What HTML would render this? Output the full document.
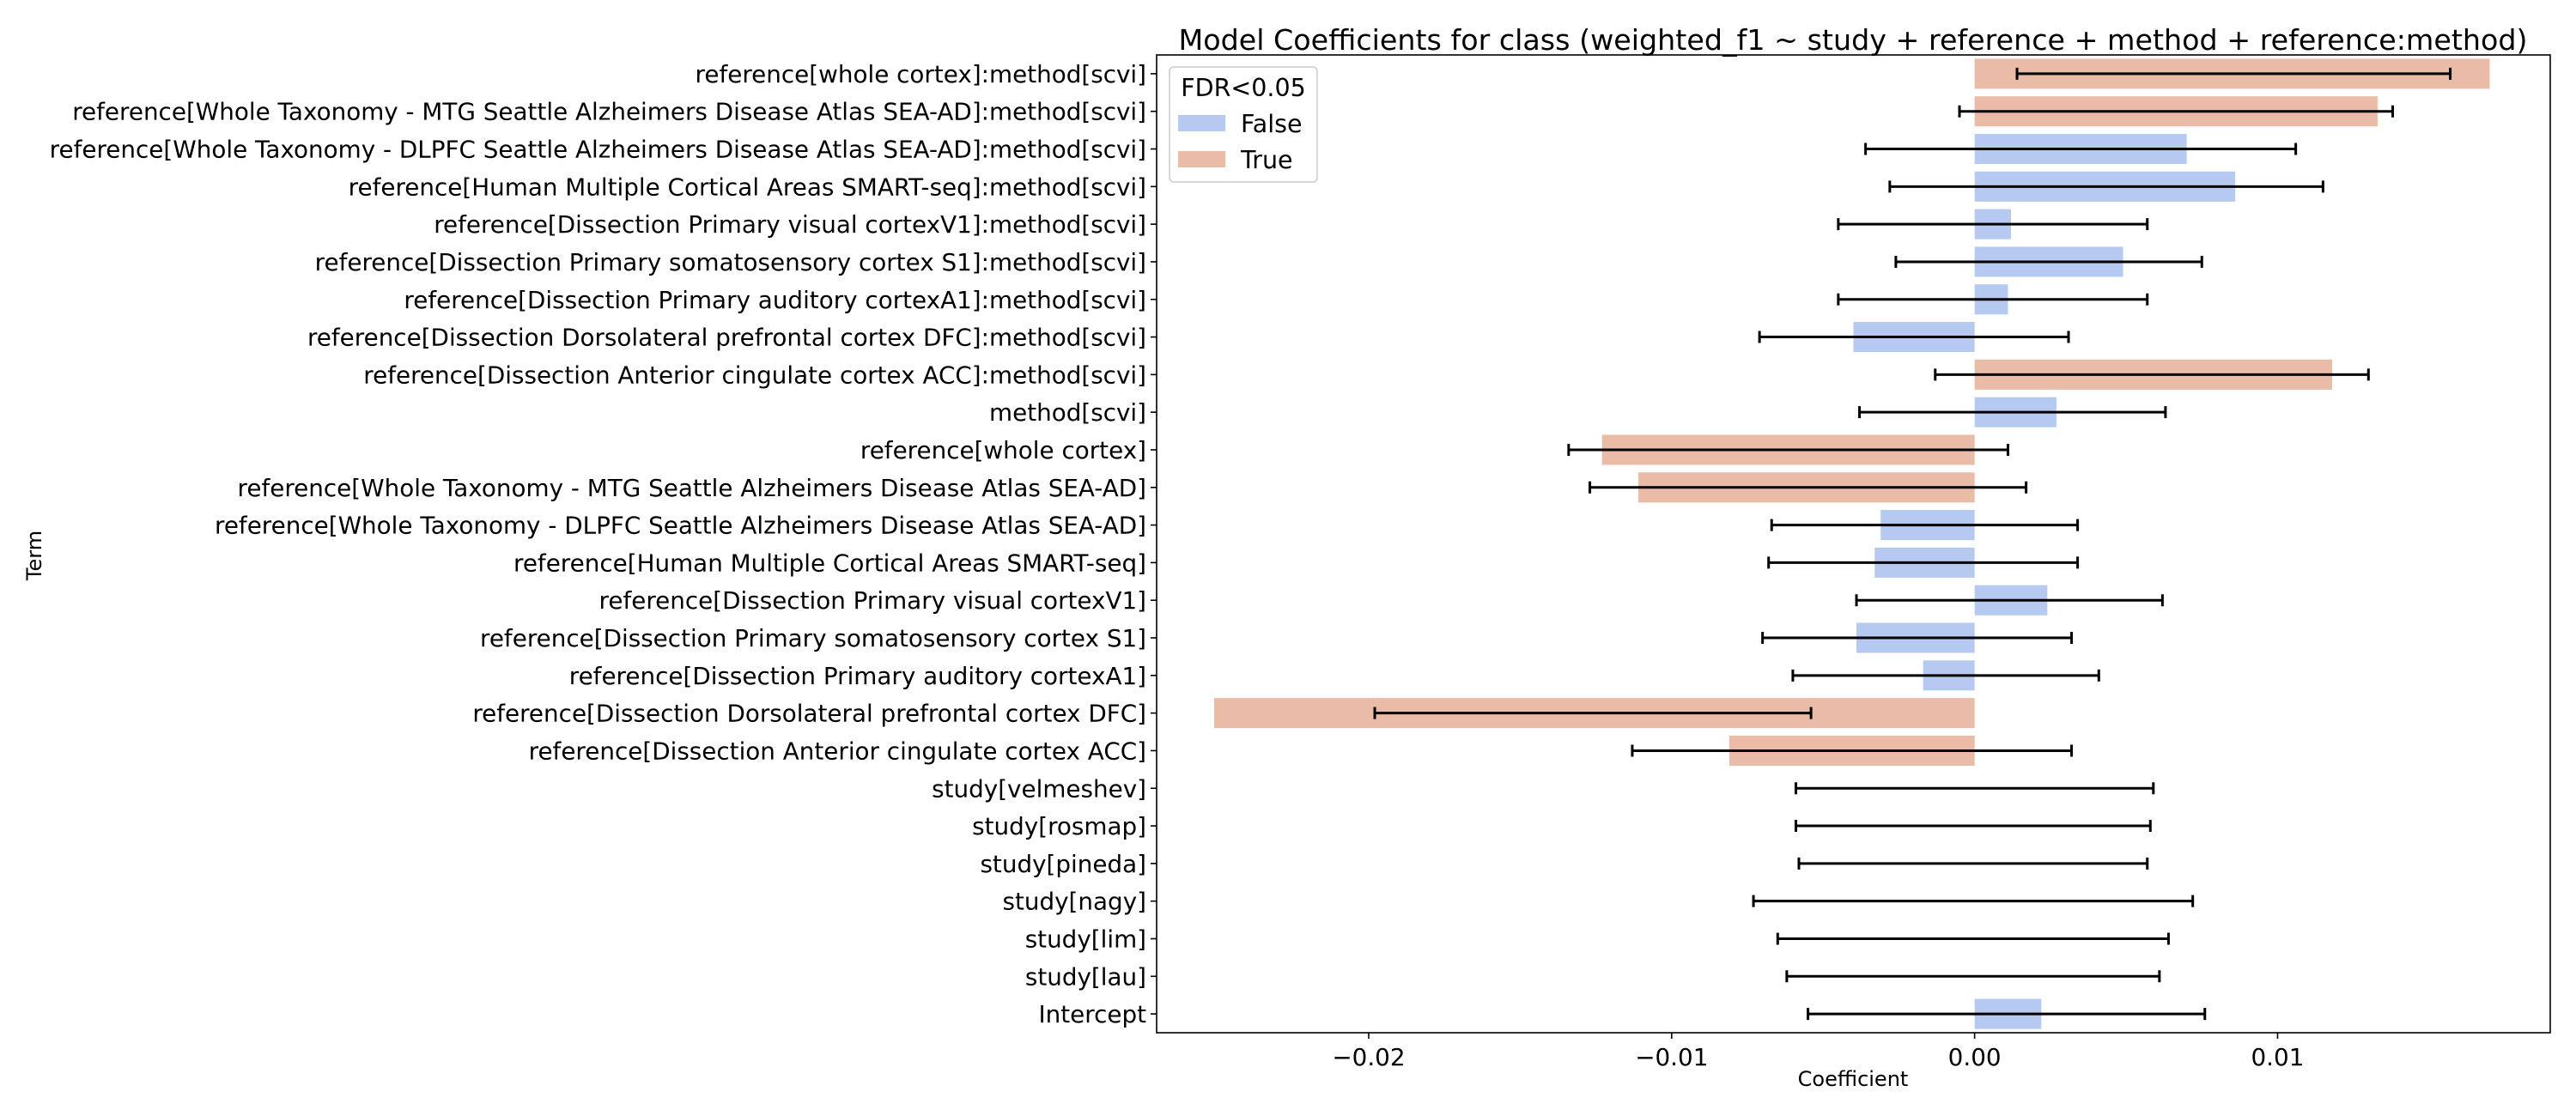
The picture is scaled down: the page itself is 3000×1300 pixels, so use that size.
<!DOCTYPE html>
<html><head><meta charset="utf-8"><style>
html,body{margin:0;padding:0;background:#fff;}
svg{display:block;font-family:"DejaVu Sans","Liberation Sans",sans-serif;}
</style></head><body>
<svg id="chart" width="3000" height="1300" viewBox="0 0 3000 1300" xmlns="http://www.w3.org/2000/svg">
<rect width="3000" height="1300" fill="#fff"/>
<text x="2158" y="58" font-size="33.3" text-anchor="middle">Model Coefficients for class (weighted_f1 ~ study + reference + method + reference:method)</text>
<g id="marks"></g>
<rect x="1347" y="64" width="1623" height="1139" fill="none" stroke="#000" stroke-width="1.6"/>
<text x="2158" y="1265" font-size="24" text-anchor="middle">Coefficient</text>
<text x="0" y="0" font-size="24" text-anchor="middle" transform="translate(48,647) rotate(-90)">Term</text>
<g>
<rect x="1362" y="78" width="172" height="134" rx="5" fill="#fff" fill-opacity="0.8" stroke="#ccc" stroke-width="1.5"/>
<text x="1448" y="112" font-size="28.5" text-anchor="middle">FDR&lt;0.05</text>
<rect x="1372" y="134" width="55" height="19" fill="#b5c9f1"/>
<text x="1445" y="154" font-size="28.5">False</text>
<rect x="1372" y="176" width="55" height="19" fill="#eabca7"/>
<text x="1445" y="196" font-size="28.5">True</text>
</g>
</svg>
<script>
const terms = ["reference[whole cortex]:method[scvi]","reference[Whole Taxonomy - MTG Seattle Alzheimers Disease Atlas SEA-AD]:method[scvi]","reference[Whole Taxonomy - DLPFC Seattle Alzheimers Disease Atlas SEA-AD]:method[scvi]","reference[Human Multiple Cortical Areas SMART-seq]:method[scvi]","reference[Dissection Primary visual cortexV1]:method[scvi]","reference[Dissection Primary somatosensory cortex S1]:method[scvi]","reference[Dissection Primary auditory cortexA1]:method[scvi]","reference[Dissection Dorsolateral prefrontal cortex DFC]:method[scvi]","reference[Dissection Anterior cingulate cortex ACC]:method[scvi]","method[scvi]","reference[whole cortex]","reference[Whole Taxonomy - MTG Seattle Alzheimers Disease Atlas SEA-AD]","reference[Whole Taxonomy - DLPFC Seattle Alzheimers Disease Atlas SEA-AD]","reference[Human Multiple Cortical Areas SMART-seq]","reference[Dissection Primary visual cortexV1]","reference[Dissection Primary somatosensory cortex S1]","reference[Dissection Primary auditory cortexA1]","reference[Dissection Dorsolateral prefrontal cortex DFC]","reference[Dissection Anterior cingulate cortex ACC]","study[velmeshev]","study[rosmap]","study[pineda]","study[nagy]","study[lim]","study[lau]","Intercept"];
const coefs = [0.0170,0.0133,0.0070,0.0086,0.0012,0.0049,0.0011,-0.0040,0.0118,0.0027,-0.0123,-0.0111,-0.0031,-0.0033,0.0024,-0.0039,-0.0017,-0.0251,-0.0081,0,0,0,0,0,0,0.0022];
const errLow = [0.0014,-0.0005,-0.0036,-0.0028,-0.0045,-0.0026,-0.0045,-0.0071,-0.0013,-0.0038,-0.0134,-0.0127,-0.0067,-0.0068,-0.0039,-0.0070,-0.0060,-0.0198,-0.0113,-0.0059,-0.0059,-0.0058,-0.0073,-0.0065,-0.0062,-0.0055];
const errHigh = [0.0157,0.0138,0.0106,0.0115,0.0057,0.0075,0.0057,0.0031,0.0130,0.0063,0.0011,0.0017,0.0034,0.0034,0.0062,0.0032,0.0041,-0.0054,0.0032,0.0059,0.0058,0.0057,0.0072,0.0064,0.0061,0.0076];
const significant = [true,true,false,false,false,false,false,false,true,false,true,true,false,false,false,false,false,true,true,false,false,false,false,false,false,false];
const xTicks = [-0.02,-0.01,0,0.01];
const xTickLabels = ["\u22120.02","\u22120.01","0.00","0.01"];

const NS="http://www.w3.org/2000/svg";
const L=1347,R=2970,T=64,B=1203,XMIN=-0.0270,XMAX=0.0190;
const band=(B-T)/terms.length;
function xs(v){return L+(v-XMIN)/(XMAX-XMIN)*(R-L);}
function ys(i){return T+band*(i+0.5);}
const g=document.getElementById('marks');
function mk(tag,attrs){const e=document.createElementNS(NS,tag);for(const k in attrs)e.setAttribute(k,attrs[k]);g.appendChild(e);return e;}
terms.forEach((t,i)=>{
  const y=ys(i),x0=xs(0),x1=xs(coefs[i]);
  const bar=mk('rect',{x:Math.min(x0,x1),y:y-band*0.4,width:Math.abs(x1-x0),height:band*0.8,fill:significant[i]?'#eabca7':'#b5c9f1'});
  
  
  const a=xs(errLow[i]),b=xs(errHigh[i]);
  const ln=mk('path',{d:`M${a},${y}H${b}M${a},${y-7}V${y+7}M${b},${y-7}V${y+7}`,stroke:'#000','stroke-width':3,fill:'none'});
  
  
  mk('line',{x1:L,x2:L-7,y1:y,y2:y,stroke:'#000','stroke-width':1.6});
  const lb=mk('text',{x:L-12,y:y+10,'font-size':27.8,'text-anchor':'end'});
  lb.textContent=t;
  
  
});
xTicks.forEach((v,i)=>{
  const x=xs(v);
  mk('line',{x1:x,x2:x,y1:B,y2:B+7,stroke:'#000','stroke-width':1.6});
  const lb=mk('text',{x:x,y:B+38,'font-size':27.8,'text-anchor':'middle'});
  lb.textContent=xTickLabels[i];
  
  
});
</script>
</body></html>
